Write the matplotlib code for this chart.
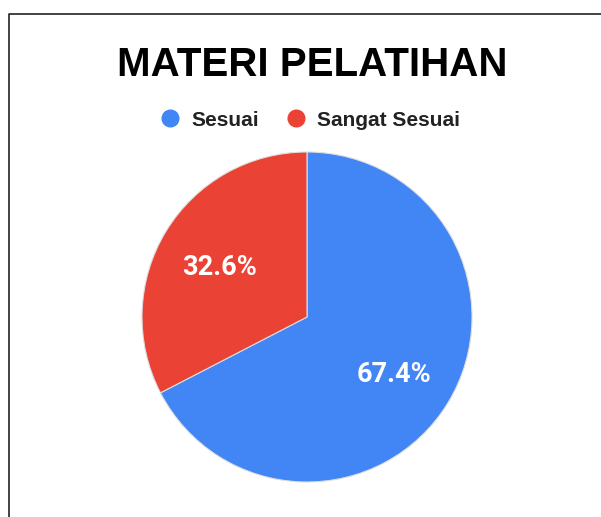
import matplotlib.pyplot as plt
from matplotlib.lines import Line2D

labels = ['Sesuai', 'Sangat Sesuai']
values = [67.4, 32.6]
colors = ['#4285F4', '#EA4335']
title = 'MATERI PELATIHAN'

W, H = 601, 517
fig = plt.figure(figsize=(W / 100, H / 100), dpi=100)

# pie area: centre (307, 317), radius 165 px
cx, cy, r = 307, 317, 165
ax = fig.add_axes([(cx - r) / W, 1 - (cy + r) / H, 2 * r / W, 2 * r / H])
wedges, texts, autotexts = ax.pie(
    values, colors=colors, startangle=90, counterclock=False,
    autopct='%1.1f%%', pctdistance=0.62, radius=1.0,
    wedgeprops=dict(edgecolor='#dddddd', linewidth=0.8),
    textprops=dict(color='white', fontsize=19.5, fontweight='bold',
                   family=['Roboto', 'DejaVu Sans']))
# labels sit a touch lower in the original
for t in autotexts:
    x, y = t.get_position()
    t.set_position((x, y - 0.025))
ax.set_xlim(-1, 1)
ax.set_ylim(-1, 1)
ax.set_aspect('equal')
ax.axis('off')

fig.text(312 / W, 1 - 65 / H, title, ha='center', va='center',
         fontsize=29, fontweight='bold', family=['Liberation Sans'])

handles = [Line2D([], [], marker='o', linestyle='none', markersize=12,
                  markerfacecolor=c, markeredgecolor=c) for c in colors]
leg = fig.legend(handles, labels, loc='center', bbox_to_anchor=(310 / W, 1 - 120 / H),
                 ncol=2, frameon=False, handlelength=1.0, handletextpad=0.5,
                 columnspacing=1.3,
                 prop=dict(family=['Liberation Sans'], weight='bold', size=15))
for t in leg.get_texts():
    t.set_color('#222222')

# partial frame (left and top edges)
fig.add_artist(Line2D([9 / W, 9 / W, 1], [0, 1 - 14 / H, 1 - 14 / H],
                      transform=fig.transFigure, color='#222222', linewidth=1.2))

fig.savefig('out.png', dpi=100)
